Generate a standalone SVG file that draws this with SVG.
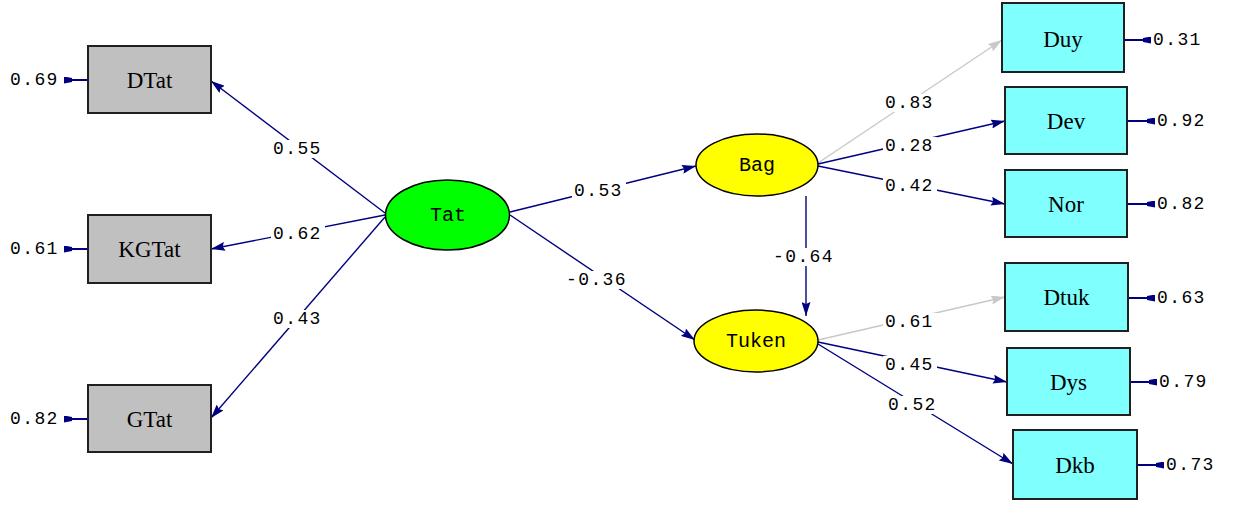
<svg xmlns="http://www.w3.org/2000/svg" width="1242" height="505" viewBox="0 0 1242 505">
  <style>
    .obs-grey { fill: #c0c0c0; stroke: #202020; stroke-width: 2; }
    .obs-cyan { fill: #80ffff; stroke: #202020; stroke-width: 2; }
    .lat { stroke: #000; stroke-width: 1.5; }
    .box-text { font-family: "Liberation Serif", "Times New Roman", serif; font-size: 23px; fill: #000; text-anchor: middle; dominant-baseline: central; }
    .lat-text { font-family: "Liberation Mono", "Courier New", monospace; font-size: 20px; fill: #000; text-anchor: middle; dominant-baseline: central; }
    .coef { font-family: "Liberation Mono", "Courier New", monospace; font-size: 18px; letter-spacing: 1.4px; fill: #000; dominant-baseline: central; }
    .path { stroke: #000080; stroke-width: 1.4; fill: none; marker-end: url(#head); }
    .path-fixed { stroke: #c8c8c8; stroke-width: 1.4; fill: none; marker-end: url(#head-grey); }
    .err { stroke: #000080; stroke-width: 2; fill: none; marker-start: url(#err-block); }
    .lbl-bg { fill: #fff; }
  </style>
  <defs>
    <marker id="head" viewBox="0 0 14 9" refX="14" refY="4.5" markerWidth="14" markerHeight="9" markerUnits="userSpaceOnUse" orient="auto">
      <path d="M0,0 L14,4.5 L0,9 L2,4.5 z" fill="#000080"/>
    </marker>
    <marker id="head-grey" viewBox="0 0 14 9" refX="14" refY="4.5" markerWidth="14" markerHeight="9" markerUnits="userSpaceOnUse" orient="auto">
      <path d="M0,0 L14,4.5 L0,9 L2,4.5 z" fill="#c8c8c8"/>
    </marker>
    <!-- small block at the tail of an error-variance arrow -->
    <marker id="err-block" viewBox="0 0 8 7" refX="0" refY="3.5" markerWidth="8" markerHeight="7" markerUnits="userSpaceOnUse" orient="auto">
      <path d="M0,0 L8,1.5 L8,5.5 L0,7 z" fill="#000080"/>
    </marker>
  </defs>

  <rect width="1242" height="505" fill="#fff"/>

  <!-- structural and measurement paths -->
  <g id="connectors">
    <line class="path" x1="385" y1="213" x2="211" y2="81"/>
    <line class="path" x1="385" y1="215" x2="211" y2="249"/>
    <line class="path" x1="385" y1="217" x2="211" y2="418"/>
    <line class="path" x1="510" y1="212" x2="696" y2="166"/>
    <line class="path" x1="510" y1="215" x2="695" y2="340"/>
    <line class="path" x1="806" y1="196" x2="806" y2="316"/>
    <line class="path-fixed" x1="818" y1="163" x2="1002" y2="40"/>
    <line class="path" x1="818" y1="164" x2="1005" y2="121"/>
    <line class="path" x1="818" y1="166" x2="1005" y2="204"/>
    <line class="path-fixed" x1="818" y1="340" x2="1005" y2="297"/>
    <line class="path" x1="818" y1="342" x2="1007" y2="382"/>
    <line class="path" x1="818" y1="344" x2="1013" y2="464"/>

    <!-- error variances -->
    <line class="err" x1="64" y1="80" x2="88" y2="80"/>
    <line class="err" x1="64" y1="249" x2="88" y2="249"/>
    <line class="err" x1="64" y1="419" x2="88" y2="419"/>
    <line class="err" x1="1151" y1="40" x2="1124" y2="40"/>
    <line class="err" x1="1155" y1="121" x2="1128" y2="121"/>
    <line class="err" x1="1155" y1="204" x2="1128" y2="204"/>
    <line class="err" x1="1155" y1="298" x2="1129" y2="298"/>
    <line class="err" x1="1157" y1="382" x2="1131" y2="382"/>
    <line class="err" x1="1164" y1="465" x2="1137" y2="465"/>

    <!-- coefficient labels -->
    <g>
      <rect class="lbl-bg" x="271" y="140" width="54" height="18"/>
      <text class="coef" x="273" y="149">0.55</text>
      <rect class="lbl-bg" x="271" y="225" width="54" height="18"/>
      <text class="coef" x="273" y="234">0.62</text>
      <rect class="lbl-bg" x="271" y="310" width="54" height="18"/>
      <text class="coef" x="273" y="319">0.43</text>
      <rect class="lbl-bg" x="572" y="182" width="54" height="18"/>
      <text class="coef" x="574" y="191">0.53</text>
      <rect class="lbl-bg" x="564" y="271" width="68" height="18"/>
      <text class="coef" x="566" y="280">-0.36</text>
      <rect class="lbl-bg" x="771" y="248" width="68" height="18"/>
      <text class="coef" x="773" y="257">-0.64</text>
      <rect class="lbl-bg" x="883" y="94" width="54" height="18"/>
      <text class="coef" x="885" y="103">0.83</text>
      <rect class="lbl-bg" x="883" y="137" width="54" height="18"/>
      <text class="coef" x="885" y="146">0.28</text>
      <rect class="lbl-bg" x="883" y="177" width="54" height="18"/>
      <text class="coef" x="885" y="186">0.42</text>
      <rect class="lbl-bg" x="883" y="313" width="54" height="18"/>
      <text class="coef" x="885" y="322">0.61</text>
      <rect class="lbl-bg" x="883" y="356" width="54" height="18"/>
      <text class="coef" x="885" y="365">0.45</text>
      <rect class="lbl-bg" x="886" y="396" width="54" height="18"/>
      <text class="coef" x="888" y="405">0.52</text>
    </g>

    <!-- error variance values -->
    <text class="coef" x="10" y="80">0.69</text>
    <text class="coef" x="10" y="249">0.61</text>
    <text class="coef" x="10" y="419">0.82</text>
    <text class="coef" x="1153" y="40">0.31</text>
    <text class="coef" x="1157" y="121">0.92</text>
    <text class="coef" x="1157" y="204">0.82</text>
    <text class="coef" x="1157" y="298">0.63</text>
    <text class="coef" x="1159" y="382">0.79</text>
    <text class="coef" x="1166" y="465">0.73</text>
  </g>

  <!-- observed indicators of Tat -->
  <g id="DTat">
    <rect class="obs-grey" x="88" y="46" width="123" height="67"/>
    <text class="box-text" x="149.5" y="80">DTat</text>
  </g>
  <g id="KGTat">
    <rect class="obs-grey" x="88" y="215" width="123" height="68"/>
    <text class="box-text" x="149.5" y="249">KGTat</text>
  </g>
  <g id="GTat">
    <rect class="obs-grey" x="88" y="385" width="123" height="67"/>
    <text class="box-text" x="149.5" y="419">GTat</text>
  </g>

  <!-- latent variables -->
  <g id="Tat">
    <ellipse class="lat" cx="447.5" cy="215" rx="62" ry="35" fill="#00ff00"/>
    <text class="lat-text" x="448" y="215">Tat</text>
  </g>
  <g id="Bag">
    <ellipse class="lat" cx="757" cy="165" rx="61" ry="31" fill="#ffff00"/>
    <text class="lat-text" x="757" y="165">Bag</text>
  </g>
  <g id="Tuken">
    <ellipse class="lat" cx="756" cy="341" rx="62" ry="31" fill="#ffff00"/>
    <text class="lat-text" x="756" y="341">Tuken</text>
  </g>

  <!-- observed indicators of Bag and Tuken -->
  <g id="Duy">
    <rect class="obs-cyan" x="1002" y="3" width="122" height="69"/>
    <text class="box-text" x="1063" y="39">Duy</text>
  </g>
  <g id="Dev">
    <rect class="obs-cyan" x="1005" y="87" width="122" height="67"/>
    <text class="box-text" x="1066" y="121">Dev</text>
  </g>
  <g id="Nor">
    <rect class="obs-cyan" x="1005" y="170" width="122" height="67"/>
    <text class="box-text" x="1066" y="204">Nor</text>
  </g>
  <g id="Dtuk">
    <rect class="obs-cyan" x="1005" y="263" width="123" height="68"/>
    <text class="box-text" x="1066.5" y="297">Dtuk</text>
  </g>
  <g id="Dys">
    <rect class="obs-cyan" x="1007" y="348" width="123" height="67"/>
    <text class="box-text" x="1068.5" y="382">Dys</text>
  </g>
  <g id="Dkb">
    <rect class="obs-cyan" x="1013" y="430" width="124" height="69"/>
    <text class="box-text" x="1075" y="465">Dkb</text>
  </g>
</svg>
